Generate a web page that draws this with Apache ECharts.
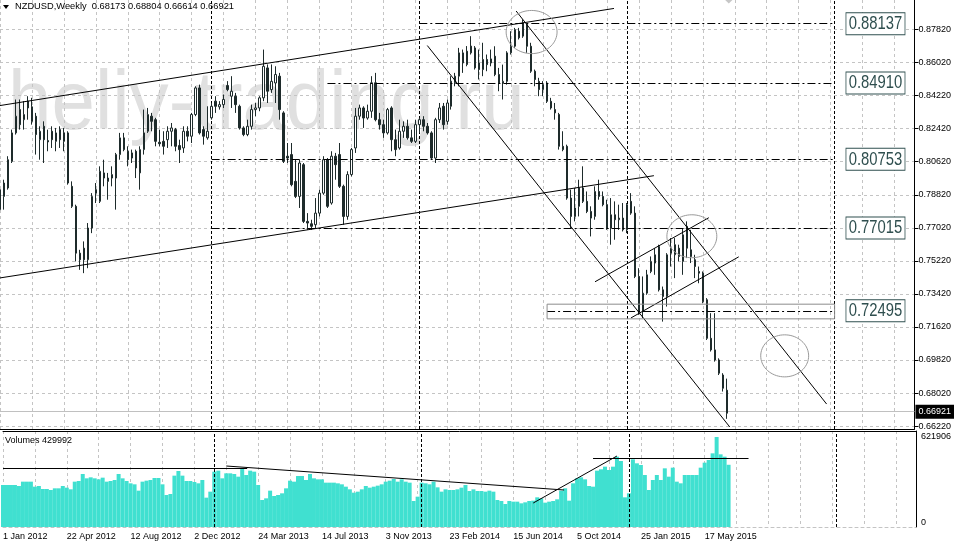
<!DOCTYPE html>
<html>
<head>
<meta charset="utf-8">
<script src="https://cdn.jsdelivr.net/npm/echarts@6/dist/echarts.min.js"></script>
<style>
html,body{margin:0;padding:0;background:#ffffff;}
#c{width:954px;height:547px;}
</style>
</head>
<body>
<div id="c"></div>
<script>
// ---------------- DATA ----------------
const symbolName = 'NZDUSD,Weekly';
const startDateUTC = Date.UTC(2012, 0, 1);   // first weekly bar
const slotCount = 230;                       // weekly slots on the time axis (incl. empty future)
const monthNames = ['Jan','Feb','Mar','Apr','May','Jun','Jul','Aug','Sep','Oct','Nov','Dec'];
const tickLabels = ['1 Jan 2012','22 Apr 2012','12 Aug 2012','2 Dec 2012','24 Mar 2013','14 Jul 2013',
  '3 Nov 2013','23 Feb 2014','15 Jun 2014','5 Oct 2014','25 Jan 2015','17 May 2015'];
const priceTicks = [0.6622,0.6802,0.6982,0.7162,0.7342,0.7522,0.7702,0.7882,0.8062,0.8242,0.8422,0.8602,0.8782];
const priceMin = 0.6606, priceMax = 0.8943;
const volumeTicks = [0, 621906];
const volumeMax = 663366;

// weekly candles: [open, close, low, high]
const ohlc = [
[.7801,.7910,.7746,.7928],[.7873,.7946,.7801,.7964],[.7919,.8073,.7910,.8092],[.8064,.8219,.8055,.8237],
[.8219,.8310,.8210,.8401],[.8346,.8264,.8237,.8401],[.8291,.8319,.8237,.8392],[.8392,.8355,.8291,.8419],
[.8361,.8282,.8264,.8410],[.8310,.8210,.8101,.8328],[.8182,.8228,.8073,.8255],[.8255,.8182,.8055,.8282],
[.8177,.8170,.8119,.8237],[.8228,.8182,.8137,.8255],[.8173,.8219,.8119,.8246],[.8237,.8182,.8137,.8255],
[.8173,.8219,.8119,.8246],[.8219,.7946,.7937,.8228],[.7928,.7819,.7810,.7955],[.7819,.7564,.7519,.7828],
[.7564,.7528,.7473,.7582],[.7591,.7528,.7455,.7628],[.7528,.7701,.7482,.7728],[.7701,.7873,.7673,.7891],
[.7910,.7891,.7837,.7946],[.7846,.8010,.7837,.8037],[.8001,.7973,.7928,.8073],[.7973,.7955,.7855,.8001],
[.7973,.7992,.7928,.8037],[.7973,.8101,.7801,.8110],[.8101,.8192,.8073,.8219],[.8192,.8128,.8119,.8219],
[.8119,.8073,.8037,.8146],[.8082,.8110,.8055,.8128],[.8119,.8028,.7973,.8128],[.8001,.8128,.7910,.8146],
[.8128,.8219,.8101,.8346],[.8228,.8319,.8219,.8355],[.8310,.8282,.8228,.8328],[.8291,.8173,.8146,.8301],
[.8168,.8160,.8146,.8237],[.8173,.8146,.8101,.8228],[.8182,.8228,.8137,.8255],[.8228,.8246,.8146,.8273],
[.8237,.8146,.8119,.8246],[.8150,.8128,.8055,.8182],[.8137,.8228,.8110,.8255],[.8228,.8201,.8173,.8255],
[.8201,.8319,.8164,.8328],[.8319,.8464,.8310,.8473],[.8464,.8219,.8210,.8482],[.8237,.8201,.8155,.8255],
[.8192,.8228,.8182,.8364],[.8301,.8364,.8291,.8382],[.8392,.8364,.8328,.8419],[.8361,.8373,.8346,.8392],
[.8373,.8401,.8355,.8428],[.8477,.8455,.8446,.8501],[.8419,.8446,.8355,.8528],[.8419,.8373,.8328,.8437],
[.8364,.8246,.8237,.8373],[.8246,.8210,.8201,.8255],[.8210,.8255,.8201,.8291],[.8255,.8346,.8237,.8373],
[.8346,.8355,.8310,.8382],[.8355,.8410,.8337,.8419],[.8410,.8582,.8392,.8673],[.8573,.8446,.8382,.8592],
[.8455,.8500,.8437,.8592],[.8491,.8537,.8382,.8582],[.8528,.8346,.8291,.8546],[.8328,.8064,.8055,.8337],
[.8092,.8082,.8055,.8164],[.8101,.7937,.7928,.8164],[.7955,.7873,.7864,.8073],[.7873,.8055,.7810,.8073],
[.8046,.7737,.7728,.8055],[.7737,.7728,.7691,.7782],[.7724,.7710,.7691,.7746],[.7719,.7782,.7701,.7864],
[.7782,.7891,.7764,.7910],[.7891,.8073,.7882,.8092],[.8073,.7819,.7810,.8082],[.7837,.8092,.7828,.8119],
[.8092,.8046,.7964,.8110],[.8101,.7928,.7919,.8164],[.7928,.7764,.7719,.7937],[.7764,.7992,.7746,.8010],
[.7992,.8128,.7982,.8137],[.8137,.8310,.8110,.8355],[.8310,.8355,.8291,.8373],[.8355,.8300,.8246,.8364],
[.8300,.8337,.8291,.8373],[.8337,.8492,.8301,.8528],[.8492,.8291,.8282,.8546],[.8291,.8264,.8237,.8328],
[.8264,.8219,.8192,.8291],[.8219,.8346,.8210,.8355],[.8355,.8182,.8119,.8364],[.8182,.8128,.8092,.8237],
[.8137,.8228,.8128,.8291],[.8228,.8255,.8192,.8282],[.8255,.8192,.8182,.8291],[.8192,.8173,.8164,.8237],
[.8173,.8264,.8164,.8291],[.8264,.8291,.8219,.8301],[.8291,.8255,.8228,.8310],[.8255,.8219,.8210,.8273],
[.8219,.8082,.8073,.8228],[.8082,.8291,.8055,.8301],[.8291,.8355,.8273,.8382],[.8364,.8264,.8237,.8382],
[.8282,.8382,.8264,.8401],[.8364,.8501,.8346,.8528],[.8492,.8528,.8473,.8546],[.8528,.8655,.8473,.8682],
[.8600,.8655,.8546,.8673],[.8664,.8592,.8582,.8692],[.8655,.8692,.8646,.8746],[.8682,.8573,.8564,.8692],
[.8600,.8564,.8510,.8673],[.8564,.8619,.8528,.8710],[.8619,.8591,.8555,.8646],[.8600,.8622,.8582,.8673],
[.8637,.8537,.8528,.8691],[.8537,.8491,.8446,.8573],[.8491,.8500,.8401,.8591],[.8500,.8655,.8482,.8664],
[.8655,.8691,.8646,.8773],[.8691,.8782,.8682,.8791],[.8773,.8737,.8728,.8791],[.8746,.8819,.8737,.8837],
[.8810,.8691,.8655,.88137],[.8691,.8555,.8546,.8710],[.8555,.8510,.8473,.8564],[.8500,.8455,.8419,.8519],
[.8455,.8482,.8419,.8501],[.8491,.8391,.8382,.8501],[.8391,.8355,.8346,.8410],[.8346,.8328,.8291,.8382],
[.8319,.8146,.8128,.8328],[.8146,.8128,.8119,.8228],[.8146,.7864,.7855,.8155],[.7864,.7764,.7700,.7910],
[.7764,.7810,.7737,.7919],[.7819,.7919,.7764,.7964],[.7919,.7846,.7837,.8037],[.7846,.7791,.7782,.7900],
[.7791,.7755,.7655,.7819],[.7764,.7900,.7746,.7928],[.7900,.7873,.7855,.7964],[.7873,.7828,.7819,.7900],
[.7828,.7700,.7691,.7855],[.7700,.7773,.7610,.7864],[.7773,.7746,.7637,.7846],[.7746,.7755,.7691,.7828],
[.7755,.7691,.7682,.7837],[.7691,.7828,.7673,.7837],[.7846,.7782,.7773,.7891],[.7782,.7437,.7428,.7819],
[.7437,.7246,.7228,.7482],[.7246,.7346,.7210,.7437],[.7346,.7446,.7337,.7473],[.7464,.7519,.7455,.7546],
[.7510,.7555,.7446,.7591],[.7600,.7364,.7355,.7610],[.7364,.7328,.7191,.7382],[.7328,.7555,.7273,.7564],
[.7591,.7564,.7491,.7646],[.7555,.7610,.7428,.7646],[.7591,.7546,.7519,.7610],[.7519,.7664,.7446,.7700],
[.7710,.7591,.7537,.7737],[.7582,.7546,.7510,.7691],[.7528,.7491,.7428,.7555],[.7464,.7455,.7400,.7491],
[.7455,.7300,.7291,.7464],[.7310,.7100,.7091,.7319],[.7100,.7037,.7028,.7237],[.7037,.6982,.6973,.7237],
[.6982,.6910,.6900,.6991],[.6900,.6828,.6810,.6910],[.68173,.66921,.66614,.68804]
];

// weekly tick volumes
const volumes = [
290300,290300,290300,290300,283300,313300,313300,313300,278700,283300,262600,262600,255700,267200,267200,283300,
271800,260300,313300,317900,366300,336300,343200,336300,329400,340900,313300,317900,324800,366300,336300,317900,
301800,294900,251100,313300,320200,324800,338600,338600,294900,221200,228100,354800,387000,354800,317900,317900,
311000,301800,324800,202700,244200,382400,389300,336300,370900,370900,366300,347800,400800,359400,389300,382400,
290300,186600,198100,251100,214200,221200,232700,267200,320200,313300,352400,352400,324800,366300,336300,329400,
329400,306400,306400,306400,301800,294900,278700,260300,237300,244200,260300,283300,271800,278700,285700,294900,
313300,320200,331700,313300,329400,313300,306400,179700,209600,306400,301800,294900,313300,274100,244200,260300,
255700,255700,260300,271800,290300,248800,260300,248800,248800,244200,251100,244200,186600,179700,159000,179700,
175100,175100,163600,170500,179700,182000,205000,198100,168200,175100,179700,191200,251100,267200,182000,301800,
336300,343200,329400,283300,278700,389300,398500,416900,393900,416900,486000,456100,205000,232700,467600,440000,
428400,359400,255700,324800,359400,324800,405400,347800,410000,313300,301800,359400,359400,359400,359400,410000,
444600,463000,509000,621906,502100,486000,429992
];

// drawn objects (time in weekly-bar units, price)
const trendLines = [
  [[0, 0.8368], [153.75, 0.8897]],
  [[0, 0.7429], [163.75, 0.7986]],
  [[129.25, 0.8883], [207, 0.6742]],
  [[107, 0.8695], [182.75, 0.6617]],
  [[149, 0.7408], [177.5, 0.7757]],
  [[158, 0.7211], [185, 0.7544]]
];
const levelEnd = 209;
const levels = [
  {price: 0.88137, from: 105},
  {price: 0.84910, from: 82},
  {price: 0.80753, from: 53},
  {price: 0.77015, from: 53},
  {price: 0.72495, from: 137}
];
const periodSeparators = [53, 105, 157, 209];
const ellipses = [
  [126.75, 0.8886, 139.5, 0.8651],
  [167, 0.7773, 179.5, 0.7539],
  [190.5, 0.7119, 202.5, 0.6890]
];
const zoneBox = [[137, 0.7286, 209, 0.7206]];
const arrowMarks = [[182.5, 0.8956]];
const lastPrice = 0.66921;
const volumeLines = [
  [[0, 407700], [61.25, 407700]],
  [[56, 421500], [140.75, 255700]],
  [[133, 165800], [154, 490600]],
  [[148, 476800], [187, 476800]]
];

// ---------------- CHART ----------------
const FONT = '"Liberation Sans", Arial, sans-serif';
const categories = [];
for (let i = 0; i < slotCount; i++) {
  const d = new Date(startDateUTC + i * 7 * 86400000);
  categories.push(d.getUTCDate() + ' ' + monthNames[d.getUTCMonth()] + ' ' + d.getUTCFullYear());
}
const last = ohlc[ohlc.length - 1];
const headerText = symbolName + '  ' + last[0].toFixed(5) + ' ' + last[3].toFixed(5) + ' ' +
  last[2].toFixed(5) + ' ' + last[1].toFixed(5);

const gridLineStyle = {color: '#c4c4c4', type: [3, 3], width: 1};

function ellipseItem(params, api) {
  const a = api.coord([api.value(0), api.value(1)]);
  const b = api.coord([api.value(2), api.value(3)]);
  const cx = (a[0] + b[0]) / 2, cy = (a[1] + b[1]) / 2;
  const rx = Math.abs(b[0] - a[0]) / 2, ry = Math.abs(b[1] - a[1]) / 2;
  const pts = [];
  for (let k = 0; k < 72; k++) {
    const t = k / 72 * Math.PI * 2;
    pts.push([cx + rx * Math.cos(t), cy + ry * Math.sin(t)]);
  }
  return {type: 'polygon', shape: {points: pts}, style: {fill: 'none', stroke: '#9a9a9a', lineWidth: 1}};
}

const option = {
  animation: false,
  backgroundColor: '#ffffff',
  grid: [
    {left: 0, top: 0, width: 916, height: 429},
    {left: 0, top: 431, width: 916, height: 96}
  ],
  xAxis: [
    {type: 'category', gridIndex: 0, data: categories, boundaryGap: false,
     axisLine: {show: true, onZero: false, lineStyle: {color: '#000', width: 1}}, axisTick: {show: false},
     axisLabel: {show: false}, splitLine: {show: true, interval: 7, lineStyle: gridLineStyle}},
    {type: 'value', gridIndex: 0, min: 0, max: slotCount - 1, position: 'top', show: false,
     axisLine: {onZero: false}},
    {type: 'category', gridIndex: 1, data: categories, boundaryGap: false,
     axisLine: {show: true, onZero: false, lineStyle: {color: '#c4c4c4', type: [3, 3], width: 1}}, axisTick: {show: false},
     axisLabel: {show: true, interval: 15, align: 'left', margin: 5, fontSize: 9, fontFamily: FONT, color: '#000',
       formatter: (v, idx) => (idx % 16 === 0 && tickLabels[idx / 16]) ? tickLabels[idx / 16] : ''},
     splitLine: {show: true, interval: 7, lineStyle: gridLineStyle}},
    {type: 'value', gridIndex: 1, min: 0, max: slotCount - 1, position: 'top',
     axisLine: {show: true, onZero: false, lineStyle: {color: '#000', width: 1}}, axisTick: {show: false},
     axisLabel: {show: false}, splitLine: {show: false}}
  ],
  yAxis: [
    {type: 'value', gridIndex: 0, position: 'right', min: priceMin, max: priceMax,
     axisLine: {show: true, onZero: false, lineStyle: {color: '#000', width: 1}},
     axisTick: {show: true, length: 4, customValues: priceTicks, lineStyle: {color: '#000'}},
     axisLabel: {show: true, customValues: priceTicks, margin: 4, fontSize: 9, fontFamily: FONT, color: '#000',
       formatter: v => Number(v).toFixed(5)},
     splitLine: {show: true, lineStyle: gridLineStyle}},
    {type: 'value', gridIndex: 1, position: 'right', min: 0, max: volumeMax,
     axisLine: {show: true, onZero: false, lineStyle: {color: '#000', width: 1}},
     axisTick: {show: false, customValues: volumeTicks},
     axisLabel: {show: true, customValues: volumeTicks, margin: 5, fontSize: 9, fontFamily: FONT, color: '#000',
       formatter: v => (Math.round(v) === 0 ? '{z|0}' : '{t|' + Math.round(v) + '}'),
       rich: {z: {fontSize: 9, fontFamily: FONT, color: '#000', padding: [0, 0, 8, 0]},
              t: {fontSize: 9, fontFamily: FONT, color: '#000', padding: [0, 0, 0, 0]}}},
     splitLine: {show: false}}
  ],
  graphic: [
    {type: 'text', x: 8, y: 64, scaleX: 0.93, z: 0, silent: true,
     style: {text: 'heliy-trading.ru', fontSize: 84, fontFamily: FONT, fill: '#e0e0e0', verticalAlign: 'top'}},
    {type: 'polygon', z: 10, silent: true, shape: {points: [[3, 5], [9, 5], [6, 9]]}, style: {fill: '#000'}},
    {type: 'text', x: 15, y: 2, z: 10, silent: true,
     style: {text: headerText, fontSize: 9.3, fontFamily: FONT, fill: '#000', verticalAlign: 'top'}},
    {type: 'text', x: 5, y: 436, z: 10, silent: true,
     style: {text: 'Volumes ' + volumes[volumes.length - 1], fontSize: 9, fontFamily: FONT, fill: '#000', verticalAlign: 'top'}}
  ],
  series: [
    {type: 'candlestick', name: 'NZDUSD', xAxisIndex: 0, yAxisIndex: 0, data: ohlc, barWidth: 2, z: 5,
     itemStyle: {color: '#ffffff', color0: '#1e2b2b', borderColor: '#1e2b2b', borderColor0: '#1e2b2b', borderWidth: 1},
     markLine: {symbol: ['none', 'none'], silent: true, animation: false,
       lineStyle: {color: '#c0c0c0', type: 'solid', width: 1},
       label: {show: true, position: 'end', distance: 1, formatter: () => lastPrice.toFixed(5),
         backgroundColor: '#000', color: '#fff', fontSize: 9, fontFamily: FONT, padding: [3, 3, 2, 3]},
       data: [{yAxis: lastPrice}]}},
    {type: 'lines', coordinateSystem: 'cartesian2d', xAxisIndex: 1, yAxisIndex: 0, z: 6, silent: true,
     lineStyle: {color: '#000', width: 1, opacity: 1},
     data: trendLines.map(l => ({coords: l}))},
    {type: 'lines', coordinateSystem: 'cartesian2d', xAxisIndex: 1, yAxisIndex: 0, z: 6, silent: true,
     lineStyle: {color: '#000', width: 1, opacity: 1, type: [8, 3, 2, 3]},
     data: levels.map(l => ({coords: [[l.from, l.price], [levelEnd, l.price]]}))},
    {type: 'lines', coordinateSystem: 'cartesian2d', xAxisIndex: 1, yAxisIndex: 0, z: 4, silent: true,
     lineStyle: {color: '#000', width: 1, opacity: 1, type: [3, 2]},
     data: periodSeparators.map(u => ({coords: [[u, priceMin], [u, priceMax]]}))},
    {type: 'custom', xAxisIndex: 1, yAxisIndex: 0, z: 7, silent: true, data: ellipses, renderItem: ellipseItem},
    {type: 'custom', xAxisIndex: 1, yAxisIndex: 0, z: 7, silent: true, data: zoneBox,
     renderItem: (params, api) => {
       const a = api.coord([api.value(0), api.value(1)]);
       const b = api.coord([api.value(2), api.value(3)]);
       return {type: 'rect', shape: {x: a[0], y: a[1], width: b[0] - a[0], height: b[1] - a[1]},
               style: {fill: 'none', stroke: '#8c8c8c', lineWidth: 1}};
     }},
    {type: 'custom', xAxisIndex: 1, yAxisIndex: 0, z: 8, silent: true,
     data: levels.map(l => [levelEnd, l.price]),
     renderItem: (params, api) => {
       const c = api.coord([api.value(0), api.value(1)]);
       return {type: 'text', x: c[0] + 70, y: c[1], scaleX: 0.78,
         style: {text: levels[params.dataIndex].price.toFixed(5), fontSize: 19, fontFamily: FONT, fill: '#2f4f4f',
           align: 'right', verticalAlign: 'middle', backgroundColor: '#ffffff', borderColor: '#2f4f4f',
           borderWidth: 1, padding: [2, 3, 0, 3]}};
     }},
    {type: 'scatter', xAxisIndex: 1, yAxisIndex: 0, z: 8, silent: true, clip: false, data: arrowMarks,
     symbol: 'diamond', symbolSize: [12, 12], itemStyle: {color: '#b8b8b8'}},
    {type: 'bar', name: 'Volumes', xAxisIndex: 2, yAxisIndex: 1, data: volumes, barWidth: '100%',
     barCategoryGap: '0%', itemStyle: {color: '#40E0D0'}, z: 3, silent: true},
    {type: 'lines', coordinateSystem: 'cartesian2d', xAxisIndex: 3, yAxisIndex: 1, z: 6, silent: true,
     lineStyle: {color: '#000', width: 1, opacity: 1},
     data: volumeLines.map(l => ({coords: l}))},
    {type: 'lines', coordinateSystem: 'cartesian2d', xAxisIndex: 3, yAxisIndex: 1, z: 4, silent: true,
     lineStyle: {color: '#000', width: 1, opacity: 1, type: [3, 2]},
     data: periodSeparators.map(u => ({coords: [[u, 0], [u, volumeMax]]}))}
  ]
};

const chart = echarts.init(document.getElementById('c'), null, {renderer: 'canvas'});
chart.setOption(option);
</script>
</body>
</html>
